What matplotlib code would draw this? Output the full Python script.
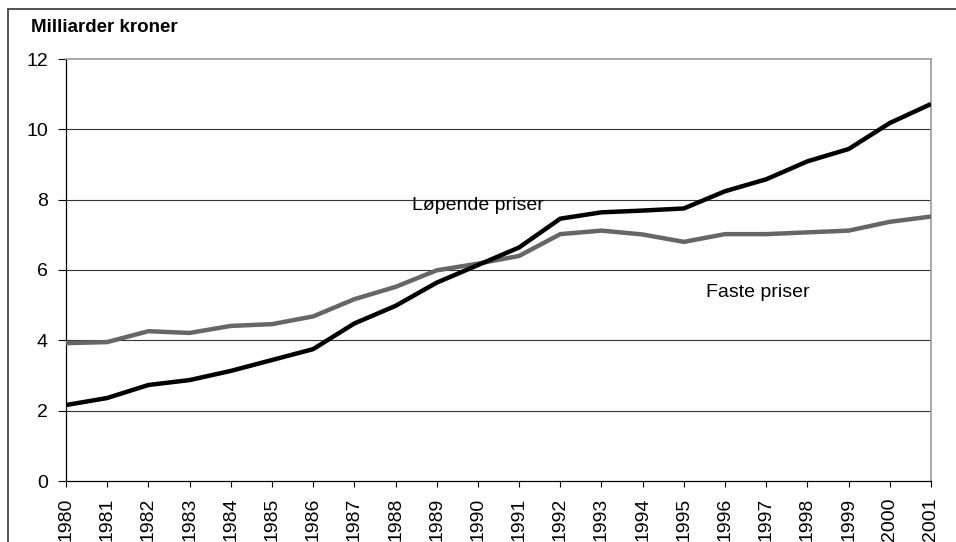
import matplotlib
matplotlib.use("Agg")
import matplotlib.pyplot as plt
from matplotlib.patches import Rectangle

years = list(range(1980, 2002))
lopende = [2.16, 2.36, 2.73, 2.87, 3.13, 3.44, 3.75, 4.48, 4.98, 5.64, 6.14,
           6.64, 7.46, 7.64, 7.69, 7.75, 8.24, 8.58, 9.09, 9.44, 10.18, 10.72]
faste = [3.92, 3.95, 4.26, 4.21, 4.41, 4.46, 4.68, 5.17, 5.52, 5.99, 6.18,
         6.40, 7.02, 7.12, 7.01, 6.80, 7.02, 7.02, 7.07, 7.12, 7.37, 7.52]
y_ticks = [0, 2, 4, 6, 8, 10, 12]
title = "Milliarder kroner"
label_lop = "Løpende priser"
label_fast = "Faste priser"

plt.rcParams['font.family'] = ['Liberation Sans', 'DejaVu Sans']

W, H = 956, 542
fig = plt.figure(figsize=(W / 100, H / 100), dpi=100)
fig.patch.set_facecolor('white')

# outer border (clipped by canvas at right/bottom)
fig.patches.append(Rectangle((8 / W, -0.2), 2.0, (1 - 9 / H) + 0.2,
                             transform=fig.transFigure, fill=False,
                             edgecolor='#333333', linewidth=1.2))

ax = fig.add_axes([66 / W, 1 - 481 / H, (931 - 66) / W, (481 - 59) / H])

for yv in y_ticks[1:-1]:
    ax.axhline(yv, color='#333333', linewidth=0.8, zorder=1)

ax.plot(years, faste, color='#666666', linewidth=3.2, solid_joinstyle='round',
        solid_capstyle='butt', zorder=3)
ax.plot(years, lopende, color='#000000', linewidth=3.2, solid_joinstyle='round',
        solid_capstyle='butt', zorder=4)

ax.set_xlim(years[0], years[-1])
ax.set_ylim(0, 12)
ax.set_yticks(y_ticks)
ax.set_yticklabels([str(v) for v in y_ticks], fontsize=14)
ax.set_xticks(years)
ax.set_xticklabels([str(y) for y in years], rotation=90, fontsize=14,
                   va='top', ha='center')

ax.tick_params(axis='y', length=6, width=0.8, pad=7, color='#000000')
ax.tick_params(axis='x', length=4, width=0.8, pad=8, color='#000000')

ax.spines['left'].set_color('#000000')
ax.spines['bottom'].set_color('#000000')
ax.spines['left'].set_linewidth(0.9)
ax.spines['bottom'].set_linewidth(0.9)
ax.spines['top'].set_color('#999999')
ax.spines['right'].set_color('#999999')
ax.spines['top'].set_linewidth(1.2)
ax.spines['right'].set_linewidth(1.2)

ax.text(1990.0, 7.82, label_lop, fontsize=14, ha='center', va='center', zorder=5)
ax.text(1996.8, 5.37, label_fast, fontsize=14, ha='center', va='center', zorder=5)

fig.text(31 / W, 1 - 27 / H, title, fontsize=13.5, fontweight='bold',
         ha='left', va='center')

fig.savefig("out.png", dpi=100, facecolor='white')
